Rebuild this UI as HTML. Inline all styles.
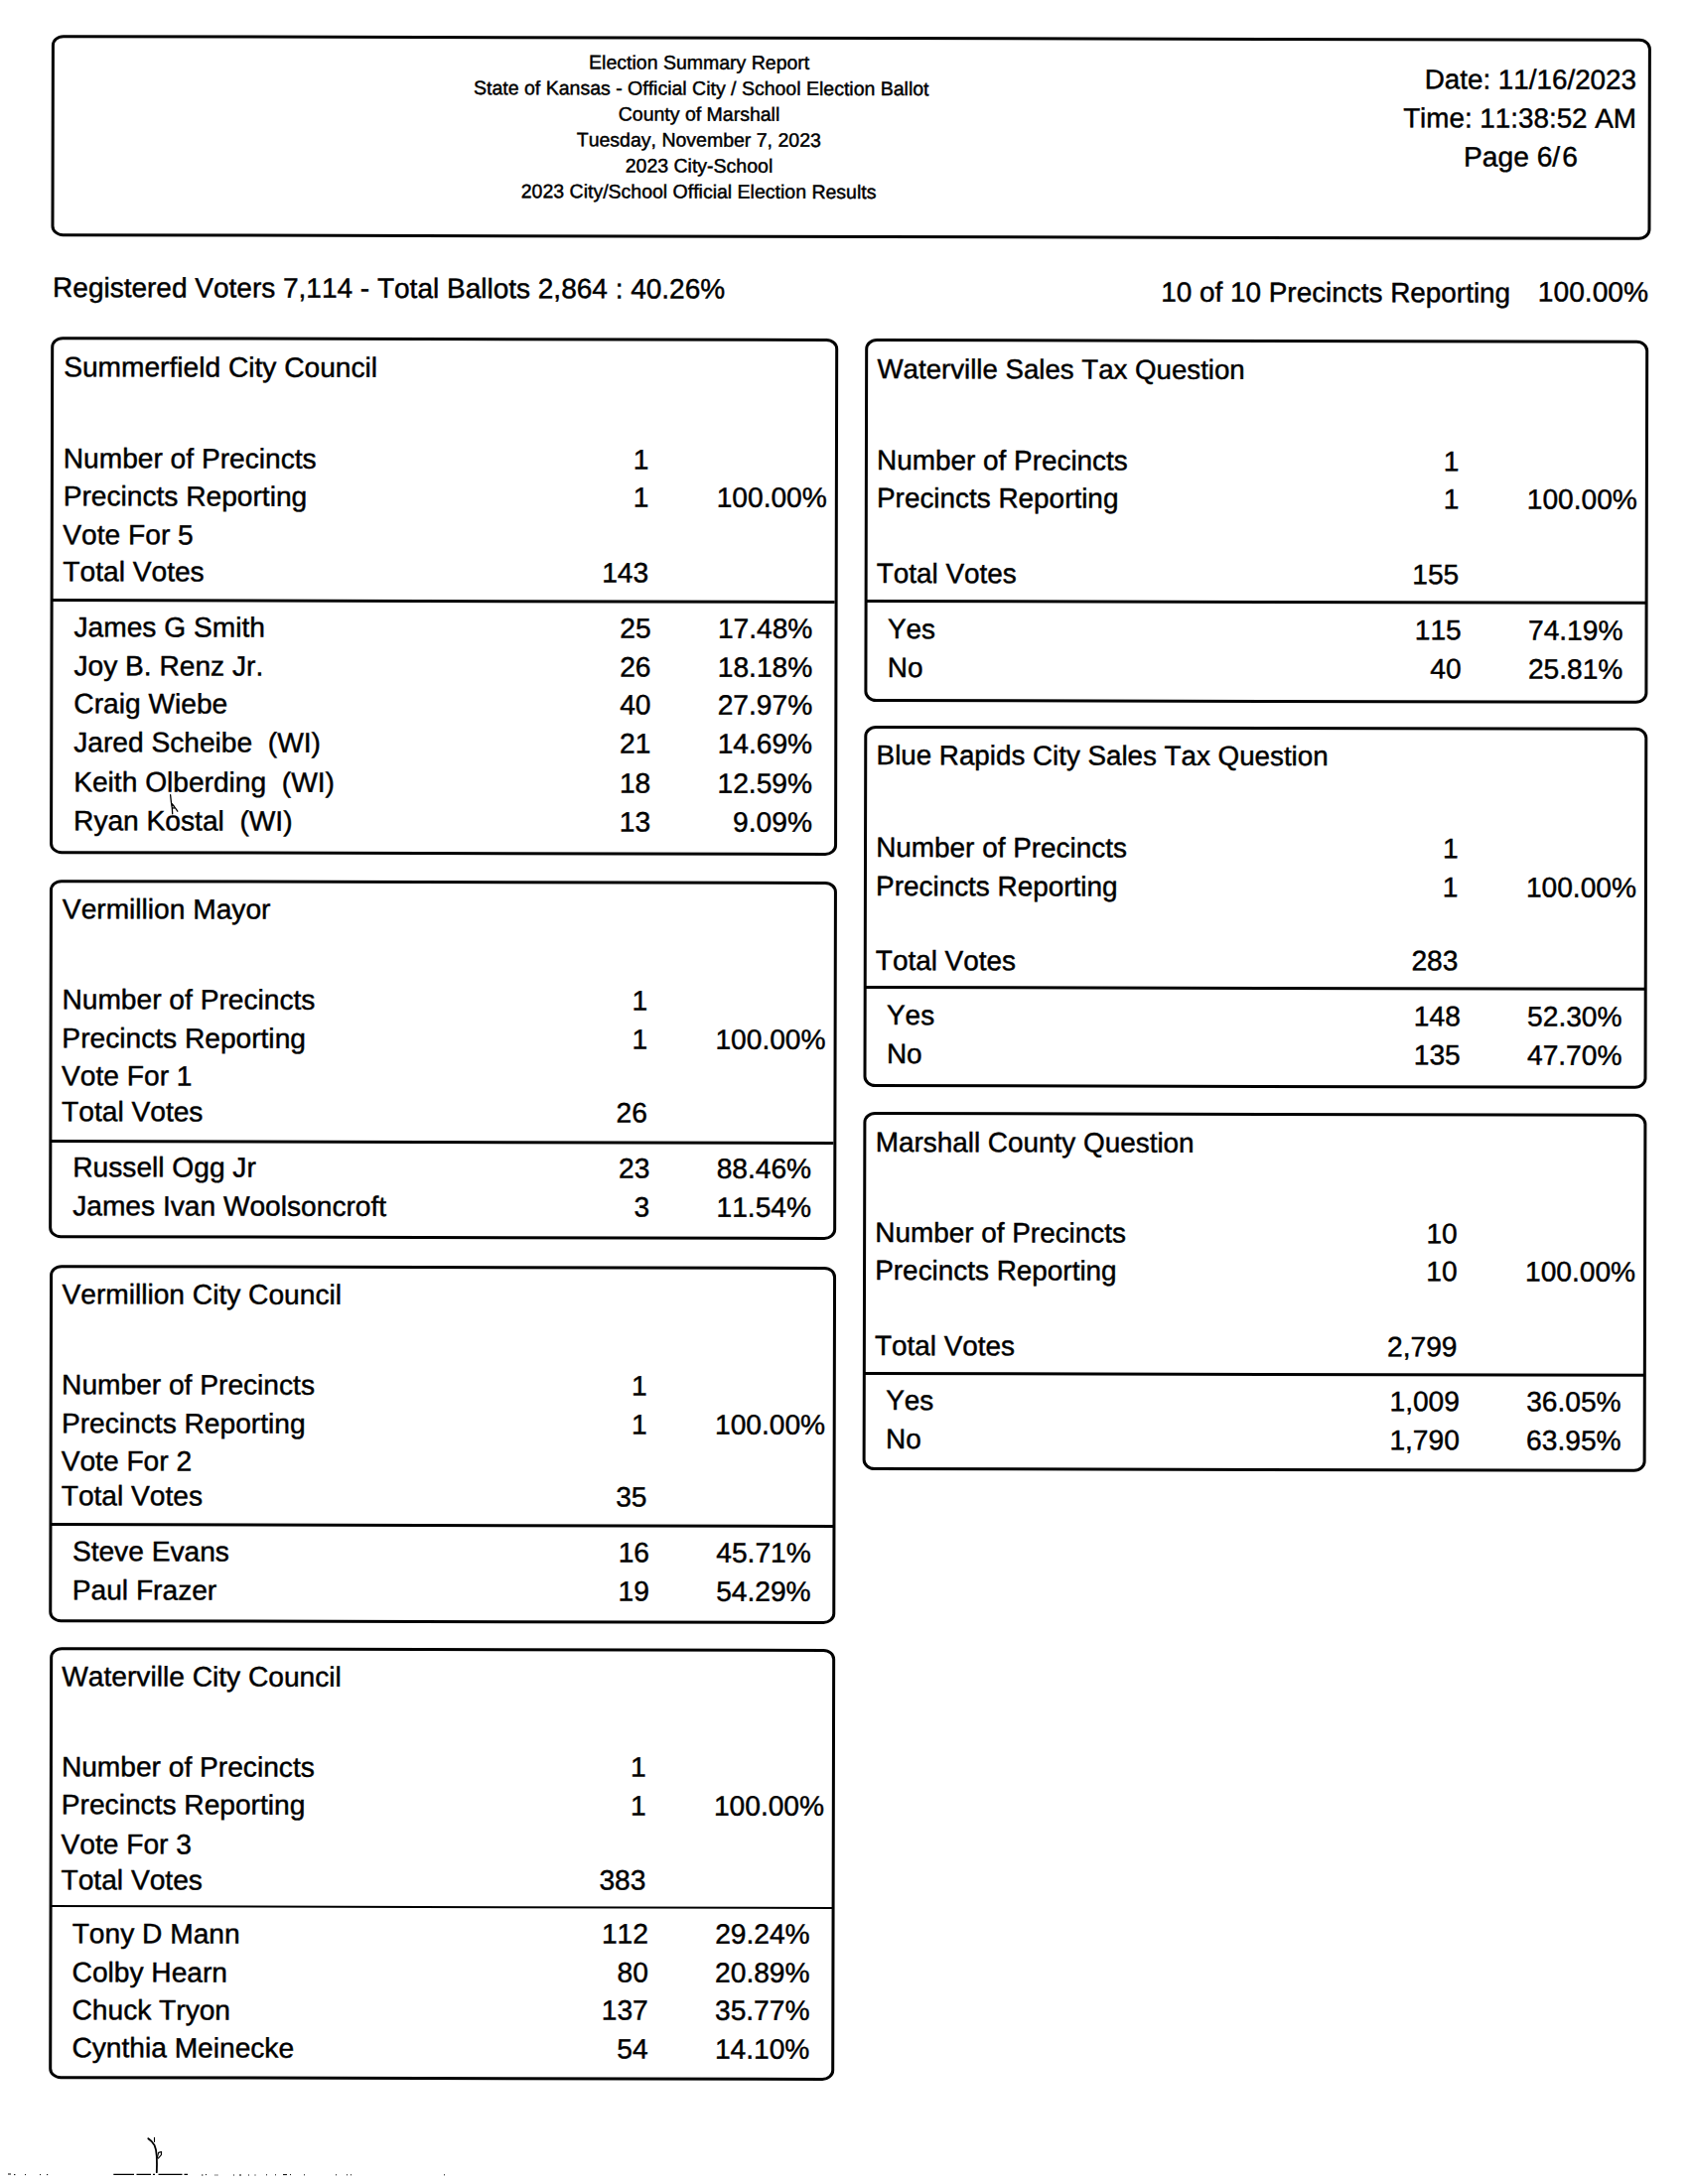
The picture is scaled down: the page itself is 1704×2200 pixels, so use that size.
<!DOCTYPE html>
<html lang="en"><head><meta charset="utf-8"><title>Election Summary Report</title>
<style>
html,body{margin:0;padding:0;background:#fff}
body{width:1704px;height:2200px;overflow:hidden;position:relative}
#pg{position:absolute;left:0;top:0;width:1704px;height:2200px;transform-origin:0 0;transform:rotate(0.1318deg);
font-family:"Liberation Sans",Arial,sans-serif;color:#000}
.t,.h{position:absolute;white-space:pre;line-height:1;font-size:28.15px;-webkit-text-stroke:0.45px #000;font-kerning:none;font-variant-ligatures:none;text-rendering:geometricPrecision}
.h{font-size:19.5px}
.box{position:absolute;border:3.0px solid #000;border-radius:12px/10.5px}
.div{position:absolute;height:2.6px;background:#000}
.marks{position:absolute;left:0;top:0}
</style></head><body><div id="pg">
<header>
<div class="box" style="left:52.40px;top:34.50px;width:1604.70px;height:197.30px"></div>
<span class="h" style="left:593.28px;top:53.23px">Election Summary Report</span>
<span class="h" style="left:477.29px;top:79.23px">State of Kansas - Official City / School Election Ballot</span>
<span class="h" style="left:622.99px;top:105.23px">County of Marshall</span>
<span class="h" style="left:581.11px;top:131.23px">Tuesday, November 7, 2023</span>
<span class="h" style="left:630.15px;top:157.23px">2023 City-School</span>
<span class="h" style="left:525.23px;top:183.23px">2023 City/School Official Election Results</span>
<span class="h" style="left:1434.90px;top:63.06px;font-size:27.8px">Date: 11/16/2023</span>
<span class="h" style="left:1413.43px;top:102.16px;font-size:27.8px">Time: 11:38:52 AM</span>
<span class="t" style="left:1474.49px;top:141.29px">Page 6/</span>
<span class="t" style="left:1573.63px;top:141.29px">6</span>
</header>
<div class="summary">
<span class="h" style="left:53.79px;top:276.43px;font-size:28.0px">Registered Voters 7,114 - Total Ballots 2,864 : 40.26%</span>
<span class="h" style="left:1169.90px;top:277.71px;font-size:27.9px">10 of 10 Precincts Reporting</span>
<span class="t" style="left:1549.57px;top:277.46px">100.00%</span>
</div>
<section class="contest">
<div class="box" style="left:52.40px;top:339.48px;width:786.60px;height:514.40px"></div>
<div class="div" style="left:53.40px;top:603.03px;width:789.10px"></div>
<span class="t" style="left:65.00px;top:356.33px">Summerfield City Council</span>
<span class="t" style="left:64.80px;top:448.23px">Number of Precincts</span>
<span class="t" style="left:638.85px;top:448.23px">1</span>
<span class="t" style="left:64.80px;top:486.43px">Precincts Reporting</span>
<span class="t" style="left:638.85px;top:486.43px">1</span>
<span class="t" style="left:722.87px;top:486.43px">100.00%</span>
<span class="t" style="left:64.60px;top:524.93px">Vote For 5</span>
<span class="t" style="left:64.70px;top:561.53px">Total Votes</span>
<span class="t" style="left:607.54px;top:561.53px">143</span>
<span class="t" style="left:76.00px;top:618.13px">James G Smith</span>
<span class="t" style="left:625.79px;top:618.13px">25</span>
<span class="t" style="left:724.38px;top:618.13px">17.48%</span>
<span class="t" style="left:76.00px;top:656.63px">Joy B. Renz Jr.</span>
<span class="t" style="left:625.79px;top:656.63px">26</span>
<span class="t" style="left:724.38px;top:656.63px">18.18%</span>
<span class="t" style="left:76.00px;top:695.43px">Craig Wiebe</span>
<span class="t" style="left:625.79px;top:695.43px">40</span>
<span class="t" style="left:724.38px;top:695.43px">27.97%</span>
<span class="t" style="left:76.00px;top:734.43px">Jared Scheibe  (WI)</span>
<span class="t" style="left:625.79px;top:734.43px">21</span>
<span class="t" style="left:724.38px;top:734.43px">14.69%</span>
<span class="t" style="left:76.00px;top:773.73px">Keith Olberding  (WI)</span>
<span class="t" style="left:625.79px;top:773.73px">18</span>
<span class="t" style="left:724.38px;top:773.73px">12.59%</span>
<span class="t" style="left:76.00px;top:812.73px">Ryan Kostal  (WI)</span>
<span class="t" style="left:625.79px;top:812.73px">13</span>
<span class="t" style="left:740.04px;top:812.73px">9.09%</span>
</section>
<section class="contest">
<div class="box" style="left:52.40px;top:886.28px;width:786.60px;height:355.20px"></div>
<div class="div" style="left:53.40px;top:1148.03px;width:789.10px"></div>
<span class="t" style="left:65.00px;top:902.03px">Vermillion Mayor</span>
<span class="t" style="left:64.80px;top:993.13px">Number of Precincts</span>
<span class="t" style="left:638.85px;top:993.13px">1</span>
<span class="t" style="left:64.80px;top:1031.63px">Precincts Reporting</span>
<span class="t" style="left:638.85px;top:1031.63px">1</span>
<span class="t" style="left:722.87px;top:1031.63px">100.00%</span>
<span class="t" style="left:64.60px;top:1070.43px">Vote For 1</span>
<span class="t" style="left:64.70px;top:1106.43px">Total Votes</span>
<span class="t" style="left:623.19px;top:1106.43px">26</span>
<span class="t" style="left:76.00px;top:1161.83px">Russell Ogg Jr</span>
<span class="t" style="left:625.79px;top:1161.83px">23</span>
<span class="t" style="left:724.38px;top:1161.83px">88.46%</span>
<span class="t" style="left:76.00px;top:1200.83px">James Ivan Woolsoncroft</span>
<span class="t" style="left:641.45px;top:1200.83px">3</span>
<span class="t" style="left:724.38px;top:1200.83px">11.54%</span>
</section>
<section class="contest">
<div class="box" style="left:52.90px;top:1273.88px;width:786.60px;height:353.90px"></div>
<div class="div" style="left:53.90px;top:1534.33px;width:789.10px"></div>
<span class="t" style="left:65.50px;top:1289.53px">Vermillion City Council</span>
<span class="t" style="left:65.30px;top:1381.23px">Number of Precincts</span>
<span class="t" style="left:639.35px;top:1381.23px">1</span>
<span class="t" style="left:65.30px;top:1419.73px">Precincts Reporting</span>
<span class="t" style="left:639.35px;top:1419.73px">1</span>
<span class="t" style="left:723.37px;top:1419.73px">100.00%</span>
<span class="t" style="left:65.10px;top:1457.53px">Vote For 2</span>
<span class="t" style="left:65.20px;top:1493.03px">Total Votes</span>
<span class="t" style="left:623.69px;top:1493.03px">35</span>
<span class="t" style="left:76.50px;top:1549.43px">Steve Evans</span>
<span class="t" style="left:626.29px;top:1549.43px">16</span>
<span class="t" style="left:724.88px;top:1549.43px">45.71%</span>
<span class="t" style="left:76.50px;top:1587.93px">Paul Frazer</span>
<span class="t" style="left:626.29px;top:1587.93px">19</span>
<span class="t" style="left:724.88px;top:1587.93px">54.29%</span>
</section>
<section class="contest">
<div class="box" style="left:53.60px;top:1659.48px;width:785.70px;height:428.80px"></div>
<div class="div" style="left:54.60px;top:1918.73px;width:788.20px"></div>
<span class="t" style="left:66.20px;top:1674.53px">Waterville City Council</span>
<span class="t" style="left:66.00px;top:1765.73px">Number of Precincts</span>
<span class="t" style="left:639.15px;top:1764.93px">1</span>
<span class="t" style="left:66.00px;top:1804.43px">Precincts Reporting</span>
<span class="t" style="left:639.15px;top:1803.63px">1</span>
<span class="t" style="left:723.17px;top:1803.63px">100.00%</span>
<span class="t" style="left:65.80px;top:1843.63px">Vote For 3</span>
<span class="t" style="left:65.90px;top:1879.83px">Total Votes</span>
<span class="t" style="left:607.83px;top:1879.03px">383</span>
<span class="t" style="left:77.20px;top:1934.23px">Tony D Mann</span>
<span class="t" style="left:610.43px;top:1933.43px">112</span>
<span class="t" style="left:724.68px;top:1933.43px">29.24%</span>
<span class="t" style="left:77.20px;top:1972.53px">Colby Hearn</span>
<span class="t" style="left:626.09px;top:1971.73px">80</span>
<span class="t" style="left:724.68px;top:1971.73px">20.89%</span>
<span class="t" style="left:77.20px;top:2010.83px">Chuck Tryon</span>
<span class="t" style="left:610.43px;top:2010.03px">137</span>
<span class="t" style="left:724.68px;top:2010.03px">35.77%</span>
<span class="t" style="left:77.20px;top:2049.43px">Cynthia Meinecke</span>
<span class="t" style="left:626.09px;top:2048.63px">54</span>
<span class="t" style="left:724.68px;top:2048.63px">14.10%</span>
</section>
<section class="contest">
<div class="box" style="left:871.80px;top:339.39px;width:783.30px;height:359.20px"></div>
<div class="div" style="left:872.80px;top:601.94px;width:785.80px"></div>
<span class="h" style="left:884.40px;top:355.69px;font-size:27.65px">Waterville Sales Tax Question</span>
<span class="h" style="left:884.20px;top:447.67px;font-size:27.9px">Number of Precincts</span>
<span class="t" style="left:1454.95px;top:447.54px">1</span>
<span class="h" style="left:884.20px;top:486.17px;font-size:27.9px">Precincts Reporting</span>
<span class="t" style="left:1454.95px;top:486.04px">1</span>
<span class="t" style="left:1538.97px;top:486.04px">100.00%</span>
<span class="h" style="left:884.10px;top:561.87px;font-size:27.9px">Total Votes</span>
<span class="t" style="left:1423.64px;top:561.74px">155</span>
<span class="h" style="left:895.40px;top:617.67px;font-size:27.9px">Yes</span>
<span class="t" style="left:1426.24px;top:617.54px">115</span>
<span class="t" style="left:1540.48px;top:617.54px">74.19%</span>
<span class="h" style="left:895.40px;top:656.67px;font-size:27.9px">No</span>
<span class="t" style="left:1441.89px;top:656.54px">40</span>
<span class="t" style="left:1540.48px;top:656.54px">25.81%</span>
</section>
<section class="contest">
<div class="box" style="left:871.80px;top:729.39px;width:783.30px;height:357.40px"></div>
<div class="div" style="left:872.80px;top:991.24px;width:785.80px"></div>
<span class="h" style="left:884.40px;top:745.45px;font-size:27.75px">Blue Rapids City Sales Tax Question</span>
<span class="h" style="left:884.20px;top:837.77px;font-size:27.9px">Number of Precincts</span>
<span class="t" style="left:1454.95px;top:837.65px">1</span>
<span class="h" style="left:884.20px;top:876.77px;font-size:27.9px">Precincts Reporting</span>
<span class="t" style="left:1454.95px;top:876.65px">1</span>
<span class="t" style="left:1538.97px;top:876.65px">100.00%</span>
<span class="h" style="left:884.10px;top:951.57px;font-size:27.9px">Total Votes</span>
<span class="t" style="left:1423.64px;top:951.45px">283</span>
<span class="h" style="left:895.40px;top:1007.17px;font-size:27.9px">Yes</span>
<span class="t" style="left:1426.24px;top:1007.05px">148</span>
<span class="t" style="left:1540.48px;top:1007.05px">52.30%</span>
<span class="h" style="left:895.40px;top:1045.97px;font-size:27.9px">No</span>
<span class="t" style="left:1426.24px;top:1045.85px">135</span>
<span class="t" style="left:1540.48px;top:1045.85px">47.70%</span>
</section>
<section class="contest">
<div class="box" style="left:871.80px;top:1118.09px;width:783.30px;height:355.40px"></div>
<div class="div" style="left:872.80px;top:1379.94px;width:785.80px"></div>
<span class="h" style="left:884.40px;top:1134.57px;font-size:27.9px">Marshall County Question</span>
<span class="h" style="left:884.20px;top:1225.77px;font-size:27.9px">Number of Precincts</span>
<span class="t" style="left:1439.29px;top:1225.65px">10</span>
<span class="h" style="left:884.20px;top:1264.27px;font-size:27.9px">Precincts Reporting</span>
<span class="t" style="left:1439.29px;top:1264.15px">10</span>
<span class="t" style="left:1538.97px;top:1264.15px">100.00%</span>
<span class="h" style="left:884.10px;top:1339.77px;font-size:27.9px">Total Votes</span>
<span class="t" style="left:1400.16px;top:1339.65px">2,799</span>
<span class="h" style="left:895.40px;top:1395.17px;font-size:27.9px">Yes</span>
<span class="t" style="left:1402.76px;top:1395.05px">1,009</span>
<span class="t" style="left:1540.48px;top:1395.05px">36.05%</span>
<span class="h" style="left:895.40px;top:1434.17px;font-size:27.9px">No</span>
<span class="t" style="left:1402.76px;top:1434.05px">1,790</span>
<span class="t" style="left:1540.48px;top:1434.05px">63.95%</span>
</section>
</div>
<svg class="marks" width="1704" height="2200" viewBox="0 0 1704 2200" aria-hidden="true">
<g fill="none" stroke="#000" stroke-width="1.3" stroke-linecap="round" stroke-linejoin="round">
<path d="M171.6 800.6 L172.4 808 L173.4 815 L173.7 819.8 M173 809.5 L175.5 812.5 L178.8 817.2 M173.2 813.5 L175.2 814.2"/>
<path d="M149.3 2154.2 L152.6 2157 L155.6 2161 L157 2165.5 L157.8 2172 L158 2180 L157.8 2188.2" stroke-width="1.8"/>
<path d="M155.5 2153.2 L155.5 2157.4 M158.4 2173.6 L159.6 2168.4 L162.6 2167.6 L162.4 2170.6 L159.4 2174.2" stroke-width="1.1"/>
<path d="M114.3 2190.4 H135 M137.5 2190.4 H152 M154 2190.4 H156 M159.5 2190.4 H183.5 M185.5 2190.4 H189" stroke-width="1.1" stroke-linecap="butt"/>
<path d="M203 2191 h1.4 M207 2190.6 h1 M216.4 2191 h1 M218.4 2191 h1 M235 2191 h1 M241 2191 h2 M250 2191 h1 M256.5 2191 h1 M8 2190 h3 M14 2190.6 h1.4 M25 2190.6 h1 M40 2190.6 h1 M47 2190.6 h1.2 M268 2190.8 h1 M277 2190.8 h1 M285 2190.6 h4 M292 2190.6 h1 M306 2190.8 h1 M338 2190.8 h1 M349 2190.8 h1 M353 2190.8 h1 M447 2190.8 h1" stroke-width="1" stroke-linecap="butt"/>
</g></svg>
</body></html>
